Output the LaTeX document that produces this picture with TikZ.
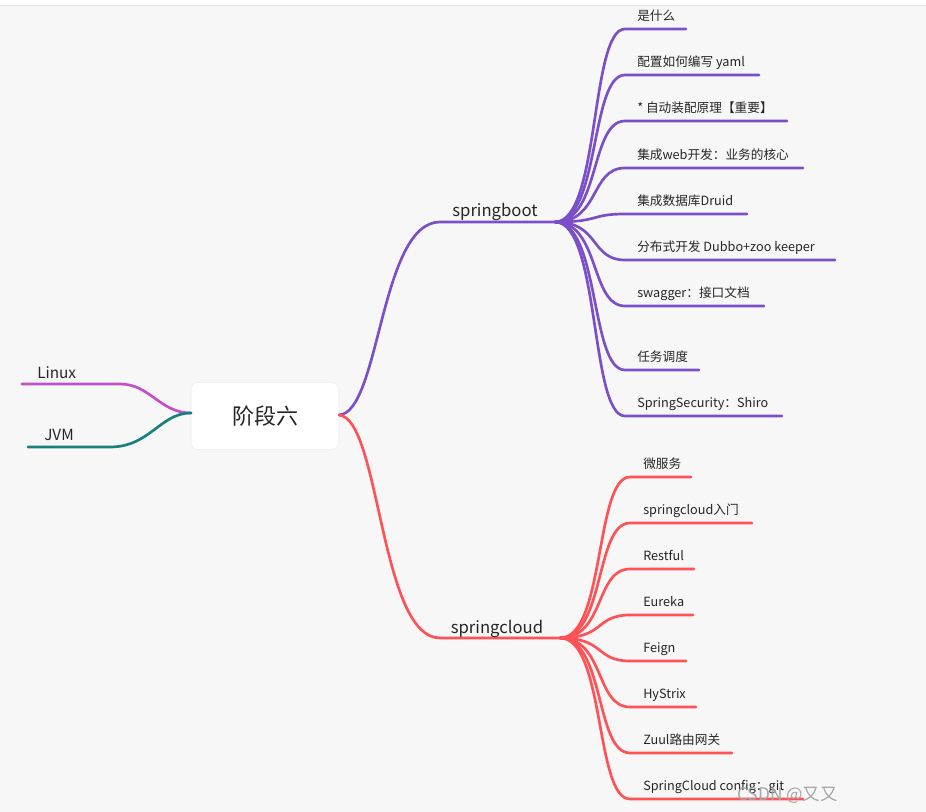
\documentclass[tikz,border=0pt]{standalone}
\usepackage{fontspec}
\setmainfont{Noto Sans CJK SC}
\begin{document}
\begin{tikzpicture}[x=0.75pt,y=-0.75pt,
  pl/.style={draw=purple1,line width=2pt,line cap=round},
  rl/.style={draw=red1,line width=2pt,line cap=round},
  lbl/.style={anchor=base west,inner sep=0pt,font=\fontsize{9.5pt}{11pt}\selectfont,text=black!85},
  blbl/.style={anchor=base,inner sep=0pt,font=\fontsize{12.5pt}{14pt}\selectfont,text=black!85}]
\definecolor{purple1}{HTML}{7B4FC8}
\definecolor{red1}{HTML}{FF5257}
\definecolor{mag}{HTML}{C050C8}
\definecolor{teal1}{HTML}{1A7F7F}
\fill[fill={rgb,255:red,247;green,247;blue,247}] (0,0) rectangle (926,812);
\useasboundingbox (0,0) rectangle (926,812);
\fill[white] (0,0) rectangle (926,5);
\draw[black!10] (0,5.5) -- (926,5.5);
\node[draw=black!8,fill=white,rounded corners=5pt,minimum width=111pt,minimum height=50pt,font=\fontsize{16.5pt}{18pt}\selectfont,text=black!85] (root) at (265,416) {阶段六};
\coordinate (rr) at (339,415);
\coordinate (rl) at (191,413);
% left
\coordinate (lx) at (120,384); \coordinate (lxe) at (22,384);
\draw[draw=mag,line width=2pt,line cap=round] (rl) .. controls (160,413) and (150,384) .. (lx) -- (lxe);
\node[lbl,font=\fontsize{11.5pt}{13pt}\selectfont] (linux) at (37,379) {Linux};
\coordinate (jx) at (110,447); \coordinate (jxe) at (28,447);
\draw[draw=teal1,line width=2pt,line cap=round] (rl) .. controls (160,413) and (150,447) .. (jx) -- (jxe);
\node[lbl,font=\fontsize{11.5pt}{13pt}\selectfont] (jvm) at (44,441) {JVM};
% springboot
\coordinate (sb1) at (440,222); \coordinate (sb) at (555,222);
\draw[pl] (rr) .. controls (380,413) and (380,222) .. (sb1) -- (sb);
\node[blbl] (sbl) at (495,217) {springboot};
\foreach \y/\e/\t in {29/686/是什么,75/759/配置如何编写 yaml,121/787/* 自动装配原理【重要】,168/803/集成web开发：业务的核心,214/747/集成数据库Druid,260/835/分布式开发 Dubbo+zoo keeper,306/764/swagger：接口文档,370/699/任务调度,416/782/SpringSecurity：Shiro}{
  \draw[pl] (sb) .. controls (600,222) and (590,\y) .. (625,\y) -- (\e,\y);
  \node[lbl] at (637,\y-8) {\t};
}
% springcloud
\coordinate (sc1) at (440,638); \coordinate (sc) at (560,638);
\draw[rl] (rr) .. controls (380,418) and (380,638) .. (sc1) -- (sc);
\node[blbl] (scl) at (497,634) {springcloud};
\foreach \y/\e/\t in {477/691/微服务,523/752/springcloud入门,569/694/Restful,615/693/Eureka,661/686/Feign,707/696/HyStrix,753/732/Zuul路由网关,799/803/SpringCloud config：git}{
  \draw[rl] (sc) .. controls (605,638) and (595,\y) .. (630,\y) -- (\e,\y);
  \node[lbl] at (643,\y-8) {\t};
}
\node[anchor=base west,inner sep=0pt,text=black!35,font=\fontsize{13pt}{14pt}\selectfont] (wm) at (737,801) {CSDN @又又};
\end{tikzpicture}
\end{document}
